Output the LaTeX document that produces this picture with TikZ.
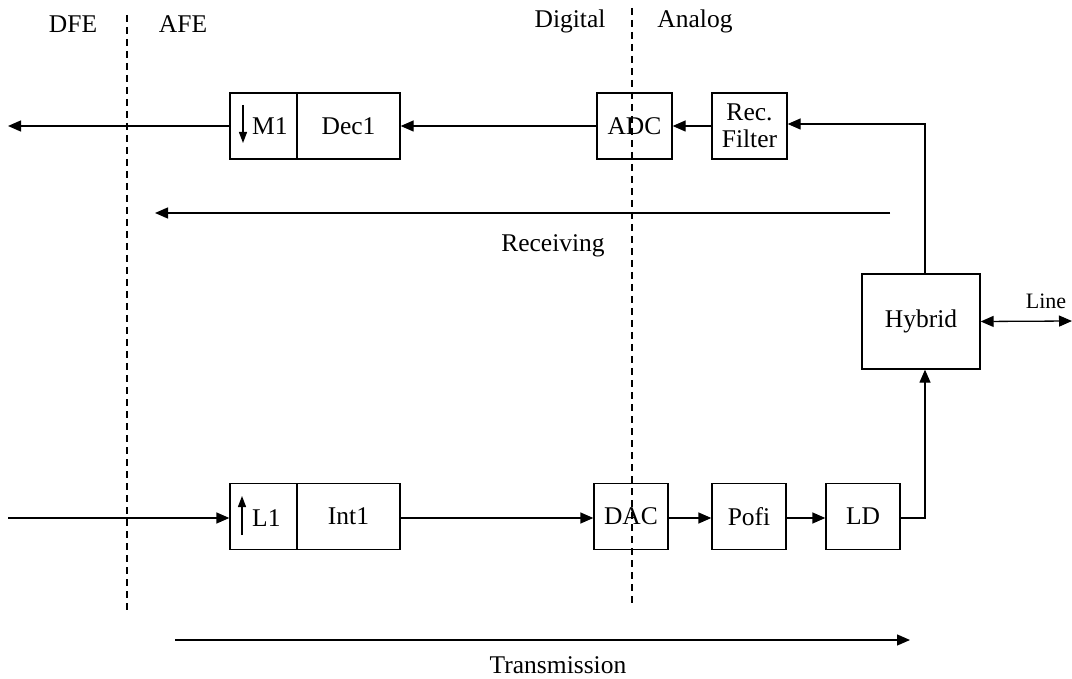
\documentclass[tikz,border=0pt]{standalone}
\usepackage{fontspec}
\setmainfont{Liberation Serif}
\usetikzlibrary{arrows.meta}
\begin{document}
\begin{tikzpicture}[x=1pt,y=-1pt,
  font=\fontsize{25.5}{27}\selectfont,
  blk/.style={draw, line width=1.3pt, minimum height=66pt, inner sep=0pt, align=center},
  arr/.style={-{Triangle[length=13pt,width=11pt]}, line width=1.3pt},
  darr/.style={{Triangle[length=13pt,width=11pt]}-{Triangle[length=13pt,width=11pt]}, line width=1.3pt},
  sarr/.style={-{Triangle[length=11pt,width=8pt]}, line width=1.3pt},
  sep/.style={line width=1.3pt, dash pattern=on 7pt off 5pt},
  lbl/.style={inner sep=0pt}]
\useasboundingbox (0,0) rectangle (1072,679);
% separators
\coordinate (s1t) at (127,15); \coordinate (s1b) at (127,612);
\coordinate (s2t) at (632,8); \coordinate (s2b) at (632,605);
\draw[sep] (s1t) -- (s1b);
\draw[sep] (s2t) -- (s2b);
% labels
\node[lbl] (dfe) at (73,24) {DFE};
\node[lbl] (afe) at (183,24) {AFE};
\node[lbl] (dig) at (570,21) {Digital};
\node[lbl] (ana) at (695,21) {Analog};
% receive chain
\node[blk, minimum width=67pt] (m1) at (263.5,126) {};
\node[lbl, anchor=west] (m1t) at (252,126) {M1};
\node[blk, minimum width=103pt] (dec) at (348.5,126) {Dec1};
\node[blk, minimum width=75pt] (adc) at (634.5,126) {ADC};
\node[blk, minimum width=75pt] (rec) at (749.5,126) {Rec.\\Filter};
\node[blk, minimum width=118pt, minimum height=95pt] (hyb) at (921,321.5) {Hybrid};
% transmit chain
\node[blk, minimum width=67pt] (l1) at (263.5,516.5) {};
\node[lbl, anchor=west] (l1t) at (252,518) {L1};
\node[blk, minimum width=103pt] (int) at (348.5,516.5) {Int1};
\node[blk, minimum width=74pt] (dac) at (631,516.5) {DAC};
\node[blk, minimum width=74pt] (pofi) at (749,516.5) {Pofi};
\node[blk, minimum width=74pt] (ld) at (863,516.5) {LD};
% small arrows inside cells
\coordinate (m1a) at (243,105); \coordinate (m1b) at (243,143);
\draw[sarr] (m1a) -- (m1b);
\coordinate (l1a) at (242,535); \coordinate (l1b) at (242,496);
\draw[sarr] (l1a) -- (l1b);
% receive connections
\coordinate (outL) at (8,126);
\coordinate (hybUp) at (925,124);
\draw[arr] (hyb.north -| hybUp) -- (hybUp) -- (rec.east |- hybUp);
\draw[arr] (rec.west) -- (adc.east);
\draw[arr] (adc.west) -- (dec.east);
\draw[arr] (m1.west) -- (outL);
% receiving label arrow
\coordinate (ra) at (890,213); \coordinate (rb) at (155,213);
\draw[arr] (ra) -- (rb);
\node[lbl] (recv) at (553,246) {Receiving};
% line
\coordinate (lineR) at (1072,321);
\draw[darr] (hyb.east) -- (lineR);
\node[lbl] (linel) at (1046,301) {\fontsize{22}{24}\selectfont Line};
% transmit connections
\coordinate (inL) at (8,518);
\draw[arr] (inL) -- (l1.west |- inL);
\draw[arr] (int.east |- inL) -- (dac.west |- inL);
\draw[arr] (dac.east |- inL) -- (pofi.west |- inL);
\draw[arr] (pofi.east |- inL) -- (ld.west |- inL);
\coordinate (ldr) at (925,518);
\draw[arr] (ld.east |- inL) -- (ldr) -- (hyb.south -| ldr);
% transmission label arrow
\coordinate (ta) at (175,640); \coordinate (tb) at (910,640);
\draw[arr] (ta) -- (tb);
\node[lbl] (trans) at (558,665) {Transmission};
\end{tikzpicture}
\end{document}
